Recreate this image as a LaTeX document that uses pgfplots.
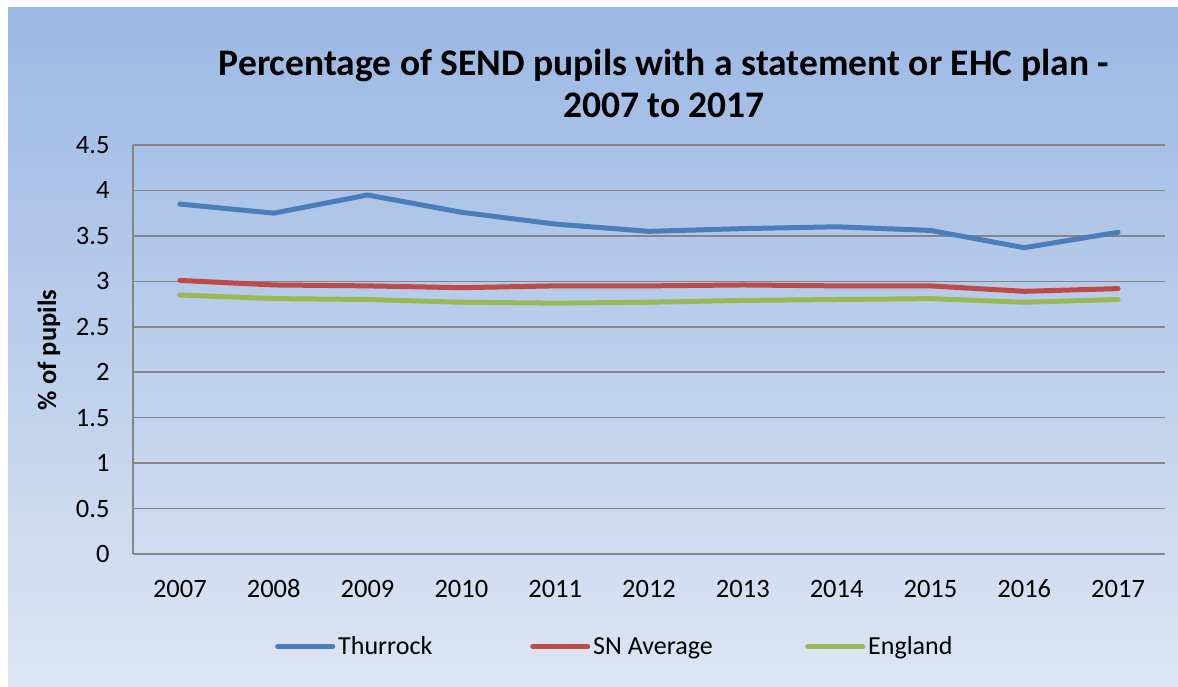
\documentclass[border=0pt]{standalone}
\usepackage{pgfplots}
\pgfplotsset{compat=1.18}
\usepackage{fontspec}
\setmainfont{Carlito}
\definecolor{bgtop}{RGB}{155,184,228}
\definecolor{bgbot}{RGB}{221,229,243}
\definecolor{gridc}{RGB}{134,134,134}
\definecolor{cthu}{RGB}{74,126,187}
\definecolor{csn}{RGB}{190,75,72}
\definecolor{ceng}{RGB}{152,185,84}
\begin{document}
\begin{tikzpicture}[x=1pt,y=1pt]
\useasboundingbox (0,0) rectangle (1178,687);
\fill[white] (0,0) rectangle (1178,687);
\shade[top color=bgtop,bottom color=bgbot] (8,0) rectangle (1178,679);
\node[font=\fontsize{37.5}{42}\selectfont\bfseries,align=center] at (664,604) {Percentage of SEND pupils with a statement or EHC plan -\\2007 to 2017};
\begin{axis}[
  at={(133pt,133pt)}, anchor=south west,
  scale only axis, width=1032pt, height=409pt,
  xmin=-0.5, xmax=10.5, ymin=0, ymax=4.5,
  xtick={0,...,10},
  xticklabels={2007,2008,2009,2010,2011,2012,2013,2014,2015,2016,2017},
  ytick={0,0.5,...,4.5},
  axis x line*=bottom, axis y line*=left,
  axis line style={gridc, line width=1.5pt, -},
  major tick length=0pt,
  ymajorgrids, grid style={gridc, line width=1.5pt},
  tick label style={font=\fontsize{26.5}{30}\selectfont},
  /pgf/number format/assume math mode=true,
  yticklabel style={xshift=-20pt},
  xticklabel style={anchor=base, yshift=-44pt},
  ylabel={\% of pupils},
  every axis y label/.style={at={(rel axis cs:-0.0815,0.499)}, rotate=90, anchor=center, font=\fontsize{26.5}{30}\selectfont\bfseries},
  legend columns=3,
  legend style={at={(0.1376,-0.2311)}, anchor=west, draw=none, fill=none, inner sep=0pt,
    font=\fontsize{26}{30}\selectfont, nodes={inner xsep=3pt, text height=18pt, text depth=6pt}, column sep=0pt},
  legend image code/.code={\draw[#1] (0pt,2pt) -- (55pt,2pt);},
  every axis plot/.append style={line width=5pt, line join=round, line cap=round},
]
\addplot[cthu] coordinates {(0,3.85)(1,3.75)(2,3.95)(3,3.76)(4,3.63)(5,3.55)(6,3.58)(7,3.60)(8,3.56)(9,3.37)(10,3.54)};
\addlegendentry{\makebox[189pt][l]{Thurrock}}
\addplot[csn] coordinates {(0,3.01)(1,2.96)(2,2.95)(3,2.93)(4,2.95)(5,2.95)(6,2.96)(7,2.95)(8,2.95)(9,2.89)(10,2.92)};
\addlegendentry{\makebox[209pt][l]{SN Average}}
\addplot[ceng] coordinates {(0,2.85)(1,2.81)(2,2.80)(3,2.77)(4,2.76)(5,2.77)(6,2.79)(7,2.80)(8,2.81)(9,2.77)(10,2.80)};
\addlegendentry{England}
\end{axis}
\end{tikzpicture}
\end{document}
